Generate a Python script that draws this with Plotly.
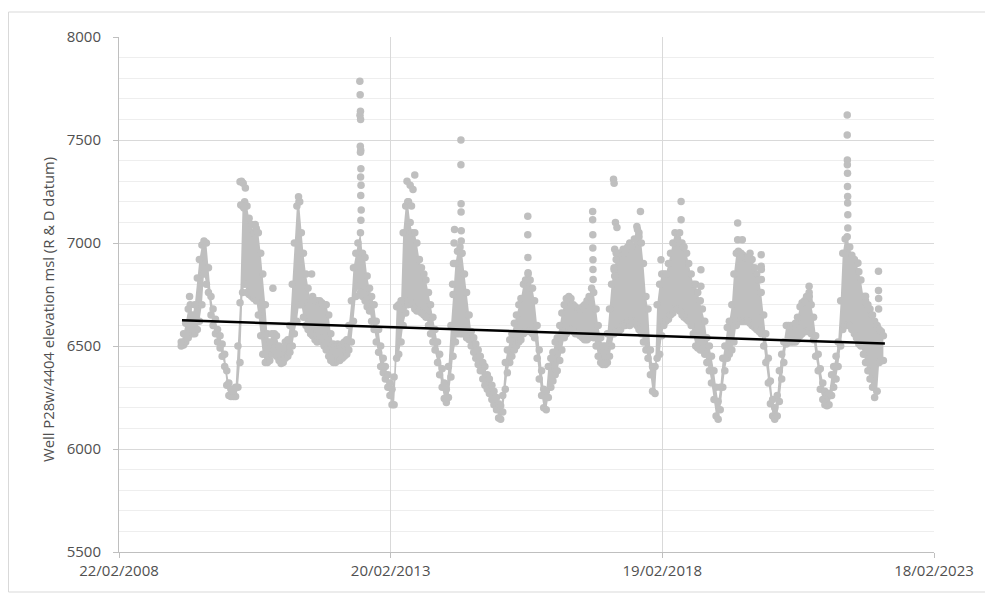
import pandas as pd
import plotly.graph_objects as go

# ---------------- data ----------------
# Semi-monthly readings (1st and 15th of each month) of the lower and upper
# edge of the dense band of daily points, from 2009-04-15 to 2022-03-15.
band_start = "2009-04-15"

band_low = [
    # 2009 (from Apr 15)
    6500, 6505, 6520, 6540, 6560, 6560, 6560, 6580, 6620, 6700, 6850, 6800, 6760, 6650, 6600, 6560, 6520,
    # 2010
    6490, 6450, 6400, 6310, 6260, 6255, 6255, 6255, 6300, 6420, 6760, 6800,
    6760, 6750, 6740, 6730, 6720, 6650, 6550, 6460, 6420, 6420, 6430, 6460,
    # 2011
    6480, 6450, 6430, 6415, 6420, 6440, 6450, 6470, 6500, 6560, 6620, 6700,
    6700, 6640, 6600, 6580, 6560, 6550, 6530, 6520, 6540, 6520, 6500, 6480,
    # 2012
    6450, 6430, 6420, 6420, 6430, 6430, 6440, 6450, 6460, 6480, 6520, 6620,
    6740, 6790, 6760, 6740, 6720, 6690, 6670, 6620, 6580, 6520, 6470, 6400,
    # 2013
    6370, 6340, 6300, 6260, 6215, 6215, 6440, 6460, 6520, 6600, 6660, 6700,
    6720, 6700, 6680, 6670, 6670, 6660, 6650, 6640, 6600, 6560, 6520, 6480,
    # 2014
    6420, 6360, 6300, 6245, 6226, 6250, 6350, 6450, 6520, 6560, 6560, 6560,
    6560, 6540, 6530, 6500, 6470, 6440, 6410, 6380, 6340, 6310, 6290, 6270,
    # 2015
    6240, 6215, 6190, 6150, 6145, 6180, 6290, 6370, 6420, 6450, 6480, 6500,
    6520, 6530, 6560, 6570, 6570, 6570, 6560, 6540, 6440, 6340, 6260, 6200,
    # 2016
    6190, 6250, 6300, 6330, 6360, 6380, 6430, 6480, 6540, 6560, 6580, 6580,
    6570, 6560, 6560, 6550, 6540, 6530, 6530, 6540, 6560, 6540, 6500, 6450,
    # 2017
    6420, 6410, 6410, 6420, 6450, 6500, 6560, 6570, 6570, 6580, 6600, 6600,
    6620, 6600, 6620, 6610, 6600, 6580, 6560, 6520, 6480, 6440, 6360, 6280,
    # 2018
    6270, 6440, 6460, 6550, 6600, 6620, 6630, 6650, 6660, 6680, 6680, 6670,
    6650, 6640, 6630, 6620, 6600, 6560, 6500, 6490, 6480, 6480, 6460, 6420,
    # 2019
    6380, 6320, 6240, 6160, 6145, 6190, 6300, 6380, 6440, 6460, 6480, 6520,
    6600, 6620, 6620, 6620, 6620, 6620, 6610, 6600, 6590, 6580, 6570, 6560,
    # 2020
    6500, 6420, 6320, 6220, 6160, 6145, 6160, 6230, 6340, 6420, 6510, 6520,
    6520, 6520, 6520, 6530, 6550, 6560, 6570, 6570, 6570, 6560, 6530, 6450,
    # 2021
    6380, 6290, 6240, 6215, 6210, 6215, 6260, 6300, 6340, 6400, 6500, 6580,
    6600, 6600, 6600, 6580, 6560, 6540, 6510, 6500, 6460, 6420, 6380, 6340,
    # 2022 (to Mar 15)
    6300, 6250, 6280, 6420, 6430, 6430,
]

band_high = [
    # 2009 (from Apr 15)
    6520, 6560, 6610, 6680, 6700, 6650, 6700, 6830, 6920, 6990, 7010, 7000, 6880, 6740, 6680, 6630, 6580,
    # 2010
    6550, 6510, 6460, 6380, 6320, 6290, 6280, 6300, 6500, 6710, 7180, 7200,
    7180, 7120, 7090, 7050, 7070, 7050, 6950, 6850, 6700, 6560, 6520, 6560,
    # 2011
    6560, 6550, 6500, 6470, 6490, 6520, 6530, 6600, 6800, 7000, 7180, 7200,
    7050, 6950, 6850, 6780, 6720, 6740, 6720, 6720, 6720, 6710, 6700, 6700,
    # 2012
    6650, 6560, 6510, 6500, 6510, 6500, 6510, 6520, 6530, 6600, 6720, 6880,
    6950, 7000, 7050, 6950, 6930, 6840, 6780, 6740, 6700, 6620, 6580, 6500,
    # 2013
    6440, 6400, 6360, 6320, 6290, 6350, 6690, 6700, 6720, 7050, 7180, 7200,
    7100, 7050, 7050, 7000, 6920, 6880, 6850, 6820, 6760, 6700, 6640, 6580,
    # 2014
    6520, 6460, 6390, 6320, 6290, 6400, 6600, 6750, 6900, 6960, 6980, 6950,
    6850, 6760, 6650, 6570, 6540, 6510, 6480, 6450, 6420, 6400, 6360, 6340,
    # 2015
    6310, 6280, 6250, 6220, 6210, 6260, 6420, 6480, 6530, 6560, 6610, 6650,
    6700, 6730, 6800, 6820, 6850, 6820, 6780, 6720, 6600, 6480, 6380, 6290,
    # 2016
    6280, 6400, 6440, 6470, 6520, 6540, 6600, 6660, 6700, 6730, 6740, 6730,
    6700, 6690, 6680, 6680, 6690, 6700, 6720, 6740, 6780, 6760, 6680, 6600,
    # 2017
    6540, 6500, 6500, 6560, 6680, 6800, 6880, 6920, 6950, 6950, 6970, 6950,
    6980, 7000, 6980, 7020, 7080, 7050, 7000, 6900, 6740, 6680, 6480, 6400,
    # 2018
    6400, 6700, 6800, 6850, 6850, 6850, 6900, 6950, 7000, 7050, 7020, 7050,
    7000, 6980, 6950, 6900, 6850, 6800, 6800, 6760, 6720, 6680, 6620, 6540,
    # 2019
    6500, 6450, 6380, 6300, 6230, 6300, 6440, 6500, 6590, 6620, 6700, 6850,
    6950, 6960, 6950, 6940, 6930, 6930, 6950, 6920, 6880, 6850, 6820, 6760,
    # 2020
    6650, 6560, 6440, 6330, 6240, 6200, 6260, 6380, 6460, 6520, 6600, 6600,
    6600, 6600, 6610, 6640, 6690, 6710, 6720, 6740, 6720, 6700, 6640, 6550,
    # 2021
    6460, 6390, 6320, 6280, 6260, 6270, 6360, 6400, 6450, 6520, 6720, 6950,
    7020, 7030, 6980, 6940, 6920, 6900, 6860, 6820, 6740, 6720, 6700, 6680,
    # 2022 (to Mar 15)
    6650, 6620, 6600, 6580, 6570, 6550,
]

# Isolated points standing out above the band
spike_dates = [
    "2009-06-10",
    "2010-05-15", "2010-05-25", "2010-06-05", "2010-06-20", "2010-05-20", "2010-06-10",
    "2010-08-25", "2010-12-22",
    "2011-06-12", "2011-06-20", "2011-09-08",
    "2012-07-28", "2012-07-30", "2012-08-01", "2012-07-29", "2012-08-02", "2012-07-31",
    "2012-08-03", "2012-08-01", "2012-08-04", "2012-08-02", "2012-08-05", "2012-08-03",
    "2012-08-06", "2012-08-04",
    "2013-06-10", "2013-07-01", "2013-07-20", "2013-08-01", "2013-06-20", "2013-07-10",
    "2014-04-12", "2014-04-18", "2014-04-22", "2014-04-25",
    "2014-06-07", "2014-06-07", "2014-06-08", "2014-06-08", "2014-06-09", "2014-06-09", "2014-06-10",
    "2015-08-30", "2015-08-30", "2015-08-31", "2015-09-01",
    "2016-11-08", "2016-11-08", "2016-11-09", "2016-11-09", "2016-11-10", "2016-11-10", "2016-11-11",
    "2017-03-28", "2017-04-01", "2017-04-10", "2017-04-20", "2017-04-05", "2017-04-15",
    "2017-04-01", "2017-04-05", "2017-09-25", "2017-09-05", "2017-09-15",
    "2018-02-10", "2018-06-25", "2018-06-25", "2018-11-05", "2018-11-05",
    "2019-07-10", "2019-07-10", "2019-08-10",
    "2019-12-15", "2019-12-15", "2019-12-16", "2019-12-16",
    "2020-11-01", "2020-11-01", "2020-11-02",
    "2021-07-15", "2021-07-15", "2021-07-16", "2021-07-16", "2021-07-17", "2021-07-17",
    "2021-07-18", "2021-07-18", "2021-07-19", "2021-07-19",
    "2021-09-25", "2021-11-15", "2021-11-15",
    "2022-02-10", "2022-02-10", "2022-02-11", "2022-02-11",
]
spike_values = [
    6740,
    7297, 7300, 7290, 7267, 7185, 7170,
    7090, 6780,
    7225, 7200, 6850,
    7785, 7720, 7640, 7620, 7600, 7470, 7450, 7440, 7360, 7320, 7280, 7230,
    7160, 7110,
    7300, 7280, 7260, 7330, 7200, 7180,
    6800, 6900, 7000, 7065,
    7500, 7380, 7190, 7150, 7060, 7010, 6950,
    7130, 7040, 6930, 6855,
    7153, 7113, 7040, 6976, 6919, 6871, 6823,
    7310, 7290, 7100, 7075, 6970, 6950,
    6870, 6840, 7153, 7065, 7030,
    6919, 7202, 7113, 6870, 6790,
    7097, 7016, 7016,
    6943, 6887, 6871, 6823,
    6790, 6760, 6740,
    7621, 7524, 7403, 7380, 7339, 7274, 7226, 7194, 7137, 7073,
    6903, 6742, 6710,
    6863, 6770, 6730, 6680,
]

# Linear trend line end points
trend_dates = ["2009-04-20", "2022-03-25"]
trend_values = [6625, 6512]

# Axis ticks
x_tick_dates = ["2008-02-22", "2013-02-20", "2018-02-19", "2023-02-18"]
x_tick_labels = ["22/02/2008", "20/02/2013", "19/02/2018", "18/02/2023"]
y_tick_values = [5500, 6000, 6500, 7000, 7500, 8000]

y_title = "Well P28w/4404 elevation msl (R & D datum)"

# ---------------- figure ----------------
band_dates = pd.date_range(band_start, periods=len(band_low), freq="SMS")

GREY = "#bfbfbf"
TEXT = "#505050"
FONT = "Open Sans"
MS = 7.5

fig = go.Figure()

fig.add_trace(go.Scatter(
    x=band_dates, y=band_low, mode="lines+markers",
    line=dict(width=0, color=GREY),
    marker=dict(size=MS, color=GREY),
    hoverinfo="skip", showlegend=False,
))
fig.add_trace(go.Scatter(
    x=band_dates, y=band_high, mode="lines+markers",
    line=dict(width=0, color=GREY),
    marker=dict(size=MS, color=GREY),
    fill="tonexty", fillcolor=GREY,
    hoverinfo="skip", showlegend=False,
))
fig.add_trace(go.Scatter(
    x=pd.to_datetime(spike_dates), y=spike_values, mode="markers",
    marker=dict(size=MS, color=GREY),
    showlegend=False,
))
fig.add_trace(go.Scatter(
    x=pd.to_datetime(trend_dates), y=trend_values, mode="lines",
    line=dict(color="#000000", width=2.5),
    showlegend=False,
))

# The page body has an 8 px margin, so the figure is sized/offset to fit.
OFF = 8
W, H = 993 - OFF, 595 - OFF
L, R, T, B = 111, 59, 29, 43
pw, ph = W - L - R, H - T - B

fig.update_layout(
    width=W, height=H,
    margin=dict(l=L, r=R, t=T, b=B, pad=0),
    paper_bgcolor="white", plot_bgcolor="white",
    font=dict(family=FONT, size=15, color=TEXT),
    showlegend=False,
)

fig.update_xaxes(
    type="date",
    range=[x_tick_dates[0], x_tick_dates[-1]],
    tickmode="array", tickvals=x_tick_dates, ticktext=x_tick_labels,
    showgrid=True, gridcolor="#d9d9d9", gridwidth=1,
    showline=True, linecolor="#bfbfbf", linewidth=1,
    ticks="outside", ticklen=5, tickcolor="#bfbfbf",
    tickfont=dict(family=FONT, size=15, color=TEXT),
    zeroline=False,
)
fig.update_yaxes(
    range=[y_tick_values[0], y_tick_values[-1]],
    tickmode="array", tickvals=y_tick_values,
    showgrid=True, gridcolor="#d9d9d9", gridwidth=1,
    minor=dict(dtick=100, showgrid=True, gridcolor="#eeeeee", gridwidth=1),
    showline=True, linecolor="#bfbfbf", linewidth=1,
    ticks="outside", ticklen=5, tickcolor="#bfbfbf",
    ticklabelstandoff=9,
    tickfont=dict(family=FONT, size=15, color=TEXT),
    zeroline=False,
)

# y-axis title
fig.add_annotation(
    text=y_title, textangle=-90,
    xref="paper", yref="paper",
    x=(47.5 - OFF - L) / pw, y=0.5 - 15 / ph,
    xanchor="center", yanchor="middle",
    showarrow=False,
    font=dict(family=FONT, size=14.8, color=TEXT),
)

# chart area border (top, left, bottom edges; right edge is off-page)
bx0 = (0.5 - L) / pw
bx1 = (W + 20 - L) / pw
by0 = (H - B - (592 - OFF)) / ph
by1 = (H - B - (12 - OFF)) / ph
for x0, y0, x1, y1 in [(bx0, by1, bx1, by1), (bx0, by0, bx0, by1), (bx0, by0, bx1, by0)]:
    fig.add_shape(
        type="line", xref="paper", yref="paper",
        x0=x0, y0=y0, x1=x1, y1=y1,
        line=dict(color="#d9d9d9", width=1), layer="below",
    )

fig.write_html("out.html")
